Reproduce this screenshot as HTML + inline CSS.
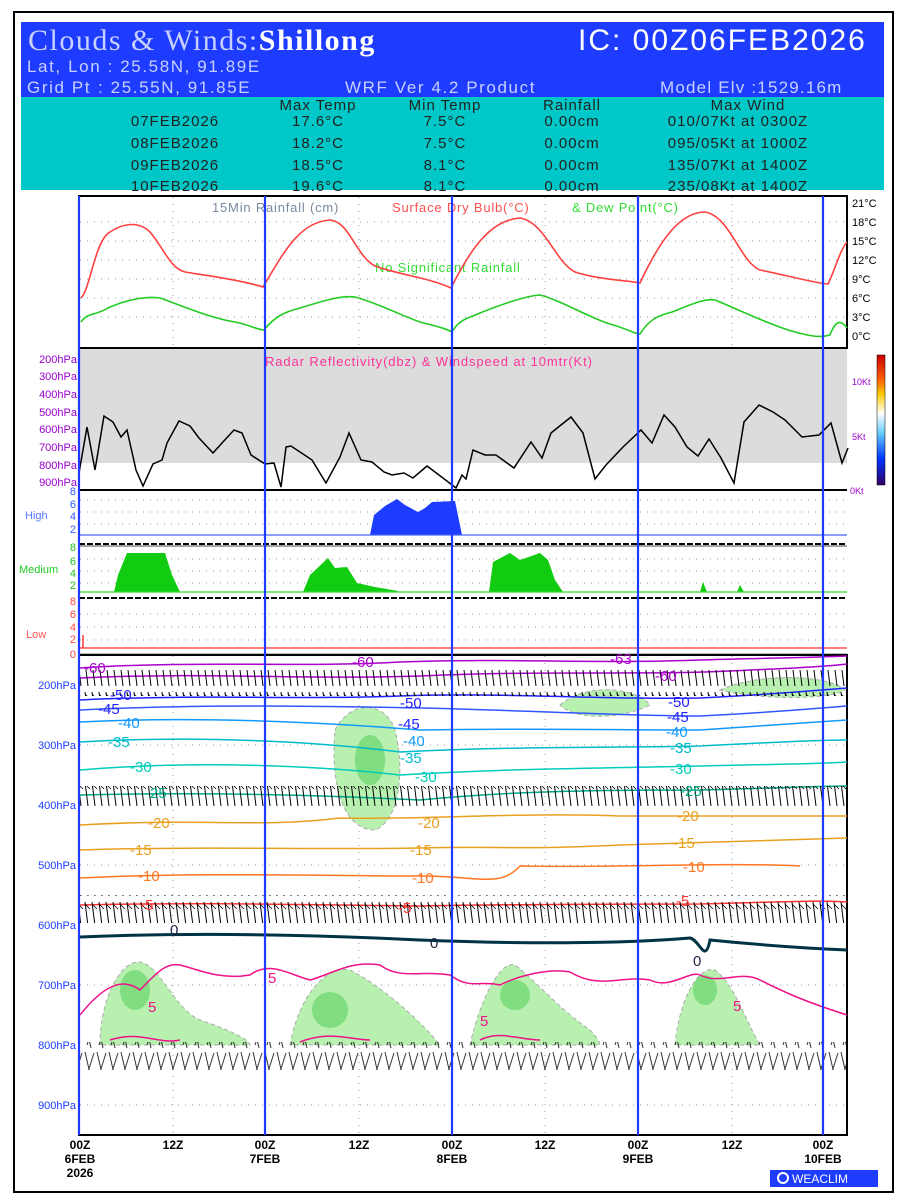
<!DOCTYPE html>
<html><head><meta charset="utf-8"><style>
body{margin:0;background:#fff;width:900px;height:1200px;overflow:hidden}
svg{display:block}
text{font-family:"Liberation Sans",sans-serif}
</style></head><body>
<svg width="900" height="1200" viewBox="0 0 900 1200" xmlns="http://www.w3.org/2000/svg">
<defs>
<pattern id="barb" width="7" height="30" patternUnits="userSpaceOnUse">
<line x1="1" y1="2" x2="4" y2="26" stroke="#000" stroke-width="1"/>
<line x1="1" y1="4" x2="6" y2="9" stroke="#000" stroke-width="0.8"/>
</pattern>
<pattern id="barb2" width="12" height="30" patternUnits="userSpaceOnUse">
<line x1="1" y1="2" x2="7" y2="28" stroke="#000" stroke-width="1"/>
<line x1="10" y1="3" x2="3" y2="25" stroke="#000" stroke-width="1"/>
</pattern>
<linearGradient id="cb" x1="0" y1="0" x2="0" y2="1"><stop offset="0" stop-color="#c00"/><stop offset="0.2" stop-color="#f60"/><stop offset="0.3" stop-color="#fc0"/><stop offset="0.45" stop-color="#fff"/><stop offset="0.6" stop-color="#6cf"/><stop offset="0.8" stop-color="#03f"/><stop offset="1" stop-color="#306"/></linearGradient>
</defs>
<rect x="14" y="12" width="879" height="1180" fill="none" stroke="#000" stroke-width="2"/>
<rect x="21" y="22" width="863" height="76" fill="#1e3cff"/>
<rect x="21" y="97" width="863" height="93" fill="#00c8c8"/>
<text x="28" y="50" style="font-family:'Liberation Serif',serif;letter-spacing:1.5px" font-size="30" fill="#c8d0ff">Clouds &amp; Winds:<tspan fill="#fff" font-weight="bold">Shillong</tspan></text>
<text x="578" y="50" font-size="30" fill="#fff" style="letter-spacing:2px">IC: 00Z06FEB2026</text>
<text x="27" y="72" font-size="17" fill="#c8d0ff" style="letter-spacing:1.6px">Lat, Lon : 25.58N, 91.89E</text>
<text x="27" y="93" font-size="17" fill="#c8d0ff" style="letter-spacing:1.6px">Grid Pt</text>
<text x="98" y="93" font-size="17" fill="#c8d0ff" style="letter-spacing:1.6px">: 25.55N, 91.85E</text>
<text x="345" y="93" font-size="17" fill="#c8d0ff" style="letter-spacing:1.6px">WRF Ver 4.2 Product</text>
<text x="660" y="93" font-size="17" fill="#c8d0ff" style="letter-spacing:1.2px">Model Elv :1529.16m</text>
<g font-size="15" fill="#222" text-anchor="middle" style="letter-spacing:1px">
<text x="318" y="110">Max Temp</text><text x="445" y="110">Min Temp</text><text x="572" y="110">Rainfall</text><text x="748" y="110">Max Wind</text>
<text x="175" y="126">07FEB2026</text><text x="318" y="126">17.6°C</text><text x="445" y="126">7.5°C</text><text x="572" y="126">0.00cm</text><text x="738" y="126">010/07Kt at 0300Z</text>
<text x="175" y="148">08FEB2026</text><text x="318" y="148">18.2°C</text><text x="445" y="148">7.5°C</text><text x="572" y="148">0.00cm</text><text x="738" y="148">095/05Kt at 1000Z</text>
<text x="175" y="170">09FEB2026</text><text x="318" y="170">18.5°C</text><text x="445" y="170">8.1°C</text><text x="572" y="170">0.00cm</text><text x="738" y="170">135/07Kt at 1400Z</text>
<text x="175" y="191">10FEB2026</text><text x="318" y="191">19.6°C</text><text x="445" y="191">8.1°C</text><text x="572" y="191">0.00cm</text><text x="738" y="191">235/08Kt at 1400Z</text>
</g>
<!-- top panel -->
<rect x="79" y="196" width="768" height="152" fill="#fff" stroke="#000" stroke-width="2"/>
<g stroke="#999" stroke-dasharray="1,6" stroke-width="1">
<line x1="80" y1="222" x2="846" y2="222"/><line x1="80" y1="241" x2="846" y2="241"/><line x1="80" y1="260" x2="846" y2="260"/><line x1="80" y1="279" x2="846" y2="279"/><line x1="80" y1="298" x2="846" y2="298"/><line x1="80" y1="317" x2="846" y2="317"/>
<line x1="173" y1="197" x2="173" y2="347"/><line x1="359" y1="197" x2="359" y2="347"/><line x1="545" y1="197" x2="545" y2="347"/><line x1="732" y1="197" x2="732" y2="347"/>
</g>
<g font-size="11" fill="#000"><text x="852" y="207">21°C</text><text x="852" y="226">18°C</text><text x="852" y="245">15°C</text><text x="852" y="264">12°C</text><text x="852" y="283">9°C</text><text x="852" y="302">6°C</text><text x="852" y="321">3°C</text><text x="852" y="340">0°C</text></g>
<text x="212" y="212" font-size="13" fill="#7a8aa0" style="letter-spacing:0.8px">15Min Rainfall (cm)</text>
<text x="392" y="212" font-size="13" fill="#ff5050" style="letter-spacing:0.8px">Surface Dry Bulb(°C)</text>
<text x="572" y="212" font-size="13" fill="#33dd33" style="letter-spacing:0.8px">&amp; Dew Point(°C)</text>
<text x="375" y="272" font-size="13" fill="#33dd33" style="letter-spacing:0.8px">No Significant Rainfall</text>
<path d="M81,298 C90,290 95,240 110,232 C125,222 140,222 150,232 C165,250 170,268 185,272 C210,276 240,280 263,287 C285,250 300,222 330,220 C350,222 355,255 375,266 C400,275 430,278 451,288 C470,250 490,220 520,218 C545,222 555,262 575,272 C600,280 625,280 640,283 C660,240 680,212 705,212 C730,216 740,262 760,270 C790,276 810,282 828,284 C835,270 840,250 847,242" fill="none" stroke="#ff4040" stroke-width="1.6"/>
<path d="M81,322 C88,312 95,316 108,308 C125,300 145,296 160,298 C180,305 210,318 235,322 C250,325 258,330 264,330 C275,316 285,312 300,308 C320,302 340,295 355,297 C375,302 400,315 420,322 C435,326 445,328 452,332 C460,318 470,318 480,313 C500,305 525,296 540,295 C560,300 590,318 610,324 C625,328 635,334 640,334 C650,318 660,315 672,312 C690,305 705,298 715,300 C735,308 770,325 795,332 C810,336 820,338 830,335 C835,322 840,318 847,328" fill="none" stroke="#22cc22" stroke-width="1.6"/>
<!-- radar panel -->
<rect x="79" y="348" width="768" height="115" fill="#dcdcdc"/>
<line x1="79" y1="348" x2="847" y2="348" stroke="#000" stroke-width="2"/>
<line x1="79" y1="490" x2="847" y2="490" stroke="#000" stroke-width="2"/>
<g font-size="11" fill="#9900cc" text-anchor="end"><text x="77" y="363">200hPa</text><text x="77" y="380">300hPa</text><text x="77" y="398">400hPa</text><text x="77" y="416">500hPa</text><text x="77" y="433">600hPa</text><text x="77" y="451">700hPa</text><text x="77" y="469">800hPa</text><text x="77" y="486">900hPa</text></g>
<g font-size="9" fill="#9900cc"><text x="852" y="385">10Kt</text><text x="852" y="440">5Kt</text><text x="850" y="494">0Kt</text></g>
<text x="265" y="366" font-size="13" fill="#ff3399" style="letter-spacing:0.9px">Radar Reflectivity(dbz) &amp; Windspeed at 10mtr(Kt)</text>
<polyline fill="none" stroke="#000" stroke-width="1.5" points="79,473 87,427 95,470 104,416 113,422 121,437 127,430 136,470 143,486 153,464 162,460 167,443 179,421 190,426 199,438 213,453 222,443 234,430 242,433 251,455 265,464 274,463 281,487 286,447 291,446 300,452 312,460 326,483 340,457 349,433 361,460 372,462 384,472 392,475 404,473 413,478 427,466 439,475 456,488 462,475 466,479 473,450 485,455 496,455 514,468 531,442 542,458 551,433 571,417 583,433 595,479 606,465 623,447 641,430 652,443 664,415 675,427 687,447 698,456 709,439 721,458 734,483 744,422 759,405 773,412 785,420 802,437 819,435 831,423 842,463 848,448"/>
<rect x="877" y="355" width="8" height="130" fill="url(#cb)" stroke="#000" stroke-width="0.5"/>
<!-- cloud panels -->
<g stroke="#999" stroke-dasharray="1,6"><line x1="80" y1="500" x2="846" y2="500"/><line x1="80" y1="512" x2="846" y2="512"/><line x1="80" y1="524" x2="846" y2="524"/>
<line x1="80" y1="559" x2="846" y2="559"/><line x1="80" y1="571" x2="846" y2="571"/><line x1="80" y1="583" x2="846" y2="583"/>
<line x1="80" y1="614" x2="846" y2="614"/><line x1="80" y1="627" x2="846" y2="627"/><line x1="80" y1="640" x2="846" y2="640"/></g>
<path d="M370,535 L374,515 L385,506 L397,499 L405,505 L418,512 L425,508 L432,502 L455,501 L462,535Z" fill="#1e3cff"/>
<line x1="79" y1="535" x2="847" y2="535" stroke="#4466ff" stroke-width="1.2"/>
<line x1="79" y1="544" x2="847" y2="544" stroke="#000" stroke-width="2" stroke-dasharray="6,2"/>
<line x1="79" y1="546" x2="847" y2="546" stroke="#444" stroke-width="1"/>
<path d="M114,592 L118,575 L127,553 L165,553 L172,575 L180,592Z M303,592 L310,575 L328,558 L335,568 L347,567 L357,583 L375,587 L398,591 L398,592Z M489,592 L493,562 L510,553 L520,560 L540,553 L548,560 L555,580 L563,592Z M700,592 L703,582 L707,592Z M737,592 L740,585 L744,592Z" fill="#11cc11"/>
<line x1="79" y1="592" x2="847" y2="592" stroke="#33dd33" stroke-width="1.2"/>
<line x1="79" y1="598" x2="847" y2="598" stroke="#000" stroke-width="2" stroke-dasharray="6,2"/>
<line x1="79" y1="648" x2="847" y2="648" stroke="#ff5050" stroke-width="1.5"/>
<line x1="83" y1="635" x2="83" y2="648" stroke="#ff3333" stroke-width="1.5"/>
<line x1="79" y1="655" x2="847" y2="655" stroke="#000" stroke-width="2.5"/>
<g font-size="11" text-anchor="end">
<g fill="#3355ff"><text x="76" y="495">8</text><text x="76" y="508">6</text><text x="76" y="520">4</text><text x="76" y="533">2</text></g>
<g fill="#22bb22"><text x="76" y="551">8</text><text x="76" y="565">6</text><text x="76" y="577">4</text><text x="76" y="589">2</text></g>
<g fill="#ff4444"><text x="76" y="605">8</text><text x="76" y="618">6</text><text x="76" y="631">4</text><text x="76" y="643">2</text><text x="76" y="658">0</text></g>
</g>
<text x="25" y="519" font-size="11" fill="#5577ff">High</text>
<text x="19" y="573" font-size="11" fill="#22cc22">Medium</text>
<text x="26" y="638" font-size="11" fill="#ff5555">Low</text>
<!-- lower panel -->
<rect x="79" y="655" width="768" height="480" fill="#fff" stroke="#000" stroke-width="2"/>
<g stroke="#999" stroke-dasharray="1,6"><line x1="80" y1="745" x2="846" y2="745"/><line x1="80" y1="865" x2="846" y2="865"/><line x1="80" y1="985" x2="846" y2="985"/><line x1="80" y1="1105" x2="846" y2="1105"/>
<line x1="173" y1="656" x2="173" y2="1134"/><line x1="359" y1="656" x2="359" y2="1134"/><line x1="545" y1="656" x2="545" y2="1134"/><line x1="732" y1="656" x2="732" y2="1134"/></g>
<g fill="#b8f0b0" stroke="#aaa" stroke-dasharray="4,3">
<path d="M335,730 C350,700 385,700 395,730 C405,770 400,820 375,830 C345,830 330,790 335,730Z"/>
<path d="M560,705 C590,680 640,690 650,705 C620,720 575,720 560,705Z"/>
<path d="M720,690 C760,672 830,675 845,690 C830,700 760,700 720,690Z"/>
<path d="M100,1045 C100,1000 120,960 140,962 C160,965 175,1010 200,1020 C230,1030 250,1040 250,1045Z"/>
<path d="M290,1045 C300,990 330,965 350,970 C380,985 420,1020 440,1045Z"/>
<path d="M470,1045 C480,1000 500,960 515,965 C535,980 560,1010 590,1030 C600,1040 600,1045 600,1045Z"/>
<path d="M675,1045 C680,995 700,965 715,970 C735,985 745,1020 760,1045Z"/>
</g>
<g fill="#80dd80"><ellipse cx="135" cy="990" rx="15" ry="20"/><ellipse cx="330" cy="1010" rx="18" ry="18"/><ellipse cx="515" cy="995" rx="15" ry="15"/><ellipse cx="705" cy="990" rx="12" ry="15"/><ellipse cx="370" cy="760" rx="15" ry="25"/></g>
<g fill="none" stroke-width="1.5">
<path d="M80,668 C200,660 300,668 400,662 C500,658 600,664 700,660 C760,658 800,658 847,656" stroke="#aa00cc"/>
<path d="M80,678 C200,672 300,680 420,676 C550,670 650,676 750,670 C800,668 830,666 847,664" stroke="#aa00cc"/>
<path d="M80,700 C200,694 300,700 400,696 C500,692 600,700 700,698 C780,694 820,690 847,688" stroke="#2222ff"/>
<path d="M80,710 C200,704 320,706 420,708 C520,710 620,716 700,716 C780,712 820,708 847,706" stroke="#3355ff"/>
<path d="M80,722 C200,716 320,722 420,730 C520,728 620,730 700,730 C780,725 820,722 847,720" stroke="#1199ff"/>
<path d="M80,742 C200,735 320,742 400,752 C520,746 620,748 700,746 C780,742 820,740 847,740" stroke="#00bbcc"/>
<path d="M80,770 C200,760 320,766 400,775 C520,768 620,768 700,766 C780,764 820,764 847,762" stroke="#00ccbb"/>
<path d="M80,795 C200,792 320,795 420,800 C520,790 620,790 700,790 C780,788 820,786 847,786" stroke="#00aa88"/>
<path d="M80,825 C200,818 260,828 340,818 C420,820 520,812 620,816 C720,816 800,816 847,816" stroke="#e8a020"/>
<path d="M80,850 C200,846 320,850 420,848 C500,846 520,850 620,845 C720,842 800,840 847,838" stroke="#e8a020"/>
<path d="M80,878 C200,872 320,876 420,876 C480,876 500,888 520,866 C620,868 720,862 800,866 847,876" stroke="#ff7722"/>
<path d="M80,905 C200,902 320,905 420,906 C520,904 620,904 700,904 C780,902 820,900 847,902" stroke="#ff3333"/>
<path d="M80,937 C200,932 320,935 420,940 C520,944 620,944 690,938 C700,940 705,965 710,940 C750,944 800,948 847,950" stroke="#003344" stroke-width="3"/>
<path d="M80,1015 C100,990 120,975 140,990 C155,975 165,962 180,965 C200,970 220,980 250,975 C270,960 290,975 310,980 C330,975 350,960 380,965 C400,980 420,970 450,975 C470,990 480,980 500,985 C520,975 550,968 570,972 C600,990 620,975 650,980 C670,990 690,970 700,975 C720,985 740,970 760,980 C780,990 800,1000 847,1015" stroke="#ee1188"/>
<path d="M110,1040 C140,1030 160,1045 180,1040 M300,1042 C330,1030 350,1040 370,1040 M480,1040 C500,1030 520,1040 540,1040" stroke="#ee1188"/>
</g>
<!-- wind barb rows -->
<rect x="80" y="670" width="767" height="26" fill="url(#barb)"/>
<rect x="80" y="786" width="767" height="26" fill="url(#barb)"/>
<rect x="80" y="895" width="767" height="28" fill="url(#barb)"/>
<rect x="80" y="1042" width="767" height="28" fill="url(#barb2)" opacity="0.8"/>
<g font-size="15">
<g fill="#aa00cc"><text x="84" y="673">-60</text><text x="352" y="667">-60</text><text x="610" y="664">-63</text><text x="655" y="681">-60</text></g>
<g fill="#2222ff"><text x="110" y="700">-50</text><text x="400" y="708">-50</text><text x="668" y="707">-50</text>
<text x="98" y="714">-45</text><text x="398" y="729">-45</text><text x="667" y="722">-45</text></g>
<g fill="#1199ff"><text x="118" y="728">-40</text><text x="403" y="746">-40</text><text x="666" y="737">-40</text></g>
<g fill="#00bbcc"><text x="108" y="747">-35</text><text x="400" y="763">-35</text><text x="670" y="753">-35</text></g>
<g fill="#00ccbb"><text x="130" y="772">-30</text><text x="415" y="782">-30</text><text x="670" y="774">-30</text></g>
<g fill="#00aa88"><text x="145" y="798">-25</text><text x="680" y="796">-25</text></g>
<g fill="#e8a020"><text x="148" y="828">-20</text><text x="418" y="828">-20</text><text x="677" y="821">-20</text>
<text x="130" y="855">-15</text><text x="410" y="855">-15</text><text x="673" y="848">-15</text></g>
<g fill="#ff7722"><text x="138" y="881">-10</text><text x="412" y="883">-10</text><text x="683" y="872">-10</text></g>
<g fill="#ff3333"><text x="140" y="910">-5</text><text x="398" y="913">-5</text><text x="676" y="906">-5</text></g>
<g fill="#224"><text x="170" y="935">0</text><text x="430" y="948">0</text><text x="693" y="966">0</text></g>
<g fill="#ee1188"><text x="148" y="1012">5</text><text x="268" y="983">5</text><text x="480" y="1026">5</text><text x="733" y="1011">5</text></g>
</g>
<g font-size="11" fill="#1e3cff" text-anchor="end"><text x="76" y="689">200hPa</text><text x="76" y="749">300hPa</text><text x="76" y="809">400hPa</text><text x="76" y="869">500hPa</text><text x="76" y="929">600hPa</text><text x="76" y="989">700hPa</text><text x="76" y="1049">800hPa</text><text x="76" y="1109">900hPa</text></g>
<g stroke="#1e3cff" stroke-width="2.2"><line x1="79" y1="196" x2="79" y2="1135"/><line x1="265" y1="196" x2="265" y2="1135"/><line x1="452" y1="196" x2="452" y2="1135"/><line x1="638" y1="196" x2="638" y2="1135"/><line x1="823" y1="196" x2="823" y2="1135"/></g>
<g font-size="12" font-weight="bold" text-anchor="middle" fill="#000">
<text x="80" y="1149">00Z</text><text x="80" y="1163">6FEB</text><text x="80" y="1177">2026</text>
<text x="173" y="1149">12Z</text><text x="265" y="1149">00Z</text><text x="265" y="1163">7FEB</text>
<text x="359" y="1149">12Z</text><text x="452" y="1149">00Z</text><text x="452" y="1163">8FEB</text>
<text x="545" y="1149">12Z</text><text x="638" y="1149">00Z</text><text x="638" y="1163">9FEB</text>
<text x="732" y="1149">12Z</text><text x="823" y="1149">00Z</text><text x="823" y="1163">10FEB</text>
</g>
<rect x="770" y="1170" width="108" height="17" fill="#1e3cff"/>
<circle cx="783" cy="1178" r="5" fill="none" stroke="#fff" stroke-width="2"/>
<text x="792" y="1183" font-size="12" fill="#fff">WEACLIM</text>
</svg>
</body></html>
